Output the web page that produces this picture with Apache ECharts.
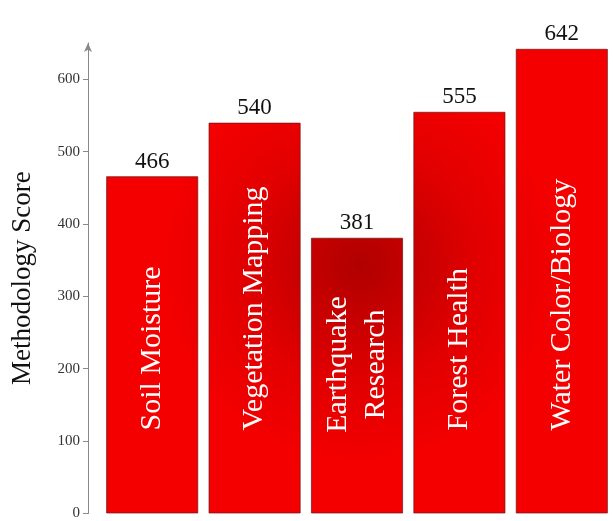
<!DOCTYPE html>
<html lang="en">
<head>
    <meta charset="UTF-8">
    <title>Methodology Score</title>
    <script src="https://cdn.jsdelivr.net/npm/echarts@6.0.0/dist/echarts.min.js"></script>
    <style>
        body, html {
            margin: 0;
            padding: 0;
            width: 100%;
            height: 100%;
            background: #fff;
        }
        #main {
            width: 613px;
            height: 521px;
        }
    </style>
</head>
<body>
    <div id="main"></div>
    <script>
        // chart data
        const categories = ['Soil Moisture', 'Vegetation Mapping', 'Earthquake\nResearch', 'Forest Health', 'Water Color/Biology'];
        const scores = [466, 540, 381, 555, 642];
        const yTicks = [0, 100, 200, 300, 400, 500, 600];

        const serif = "'Liberation Serif', 'Times New Roman', serif";

        var myChart = echarts.init(document.getElementById('main'));

        // one radial gradient across the whole plot, dark in the middle
        const barFill = new echarts.graphic.RadialGradient(360, 265, 200, [
            { offset: 0, color: '#b00000' },
            { offset: 0.6, color: '#e20000' },
            { offset: 1, color: '#f40000' }
        ], true);

        const seriesData = scores.map(function (v, i) {
            const item = { value: v };
            if (categories[i].indexOf('\n') >= 0) {
                // two-line name: centre the block inside the bar
                item.label = { align: 'center', distance: 149 };
            }
            return item;
        });

        const option = {
            backgroundColor: '#fff',
            animation: false,
            grid: {
                left: 101,
                width: 515,
                top: 43,
                bottom: 5
            },
            xAxis: {
                type: 'category',
                data: categories,
                axisLine: { show: false },
                axisTick: { show: false },
                axisLabel: { show: false }
            },
            yAxis: {
                type: 'value',
                min: 0,
                max: 650,
                interval: 100,
                offset: 13,
                name: 'Methodology Score',
                nameLocation: 'middle',
                nameGap: 52,
                nameTextStyle: { fontFamily: serif, fontSize: 27, color: '#111' },
                axisLine: {
                    show: true,
                    symbol: ['none', 'arrow'],
                    symbolSize: [6, 9],
                    lineStyle: { color: '#888', width: 1 }
                },
                axisTick: {
                    show: true,
                    length: 5,
                    customValues: yTicks,
                    lineStyle: { color: '#888' }
                },
                axisLabel: {
                    customValues: yTicks,
                    margin: 8,
                    fontFamily: serif,
                    fontSize: 15,
                    color: '#333'
                },
                splitLine: { show: false }
            },
            series: [
                {
                    // category names drawn inside the bars
                    type: 'bar',
                    data: seriesData,
                    barCategoryGap: '10%',
                    itemStyle: {
                        color: barFill,
                        borderColor: 'rgba(110,20,20,0.7)',
                        borderWidth: 1
                    },
                    label: {
                        show: true,
                        position: 'insideBottom',
                        distance: 83,
                        rotate: 90,
                        align: 'left',
                        verticalAlign: 'middle',
                        formatter: function (p) { return categories[p.dataIndex]; },
                        fontFamily: serif,
                        fontSize: 30,
                        lineHeight: 38,
                        color: '#fff'
                    },
                    z: 2
                },
                {
                    // value labels on top
                    type: 'bar',
                    data: scores,
                    barGap: '-100%',
                    barCategoryGap: '10%',
                    itemStyle: { color: 'transparent' },
                    label: {
                        show: true,
                        position: 'top',
                        distance: 3,
                        fontFamily: serif,
                        fontSize: 23,
                        color: '#111'
                    },
                    silent: true,
                    z: 1
                }
            ]
        };

        myChart.setOption(option);
    </script>
</body>
</html>
